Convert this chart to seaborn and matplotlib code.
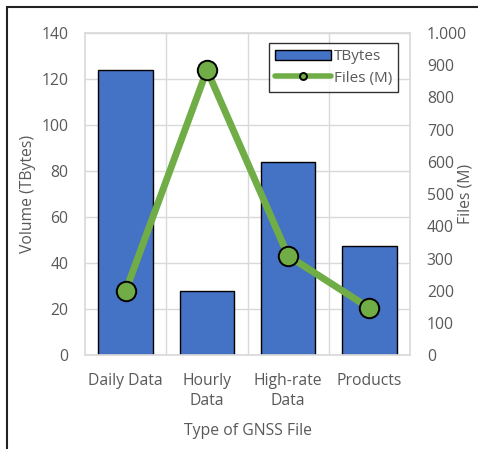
import matplotlib
matplotlib.use("Agg")
import matplotlib.pyplot as plt
import matplotlib.ticker as mticker
from matplotlib.lines import Line2D
import pandas as pd
import seaborn as sns

categories = ["Daily Data", "Hourly\nData", "High-rate\nData", "Products"]
volume_tb = [124, 28, 84, 47.5]
files_m = [200, 885, 308, 146]

BLUE = "#4472C4"
GREEN = "#70AD47"
GREY = "#595959"

sns.set_theme(style="white")
plt.rcParams["font.family"] = ["Open Sans", "DejaVu Sans"]
plt.rcParams["font.size"] = 11

df = pd.DataFrame({"type": categories, "volume": volume_tb, "files": files_m})

fig = plt.figure(figsize=(4.78, 4.49), dpi=100)
ax = fig.add_axes([0.178, 0.209, 0.680, 0.7175])

sns.barplot(data=df, x="type", y="volume", color=BLUE, edgecolor="black",
            linewidth=1.0, width=0.67, saturation=1, ax=ax, zorder=2)
ax.set_ylim(0, 140)
ax.set_yticks(range(0, 141, 20))
ax.set_xlim(-0.5, 3.5)
ax.set_xticks([0.5, 1.5, 2.5], minor=True)
ax.grid(axis="y", which="major", color="#d9d9d9", linewidth=1.0, zorder=0)
ax.grid(axis="x", which="minor", color="#d9d9d9", linewidth=1.0, zorder=0)
ax.tick_params(axis="x", which="both", length=0, colors=GREY, labelsize=11.3, pad=13)
ax.tick_params(axis="y", length=0, colors=GREY, labelsize=11.3, pad=12)
for lbl in ax.get_xticklabels():
    lbl.set_linespacing(1.35)
ax.set_xlabel("Type of GNSS File", color=GREY, fontsize=11.3, labelpad=10)
ax.set_ylabel("Volume (TBytes)", color=GREY, fontsize=11.3, labelpad=4)
for s in ax.spines.values():
    s.set_color("#d9d9d9")

ax2 = ax.twinx()
x_pos = list(range(len(categories)))
sns.lineplot(x=x_pos, y=df["files"], color=GREEN, linewidth=5, ax=ax2,
             marker="o", markersize=14, markerfacecolor=GREEN,
             markeredgecolor="black", markeredgewidth=1.4, zorder=3)
ax2.set_ylim(0, 1000)
ax2.set_yticks(range(0, 1001, 100))
ax2.yaxis.set_major_formatter(mticker.FuncFormatter(
    lambda v, p: f"{int(v):,}".replace(",", ".")))
ax2.tick_params(axis="y", length=0, colors=GREY, labelsize=11.3, pad=12)
ax2.set_ylabel("Files (M)", color=GREY, fontsize=11.3, rotation=90)
ax2.yaxis.set_label_coords(1.147, 0.5)
for s in ax2.spines.values():
    s.set_visible(False)

handles = [
    plt.Rectangle((0, 0), 1, 1, facecolor=BLUE, edgecolor="black", linewidth=1.0),
    Line2D([0], [0], color=GREEN, linewidth=4, marker="o", markersize=5,
           markerfacecolor=GREEN, markeredgecolor="black", markeredgewidth=1.4),
]
leg = ax2.legend(handles, ["TBytes", "Files (M)"], loc="upper right",
                 bbox_to_anchor=(0.963, 0.969), borderaxespad=0,
                 frameon=True, fancybox=False,
                 edgecolor="black", fontsize=11, handlelength=3.7,
                 handletextpad=0.15, borderpad=0.4, labelspacing=0.42,
                 labelcolor=GREY, handleheight=0.6)
leg.get_frame().set_linewidth(1.0)

# outer frame of the chart (left and top edges visible)
fig.add_artist(Line2D([6.5 / 478, 6.5 / 478], [0, 1 - 6.5 / 449],
                      color="#222222", linewidth=1.5, transform=fig.transFigure))
fig.add_artist(Line2D([6.5 / 478, 1], [1 - 6.5 / 449, 1 - 6.5 / 449],
                      color="#222222", linewidth=1.5, transform=fig.transFigure))

fig.savefig("out.png", dpi=100)
